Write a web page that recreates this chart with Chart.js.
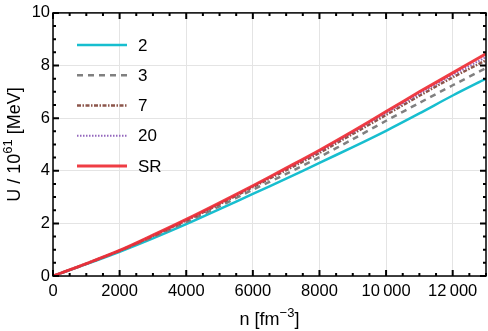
<!DOCTYPE html>
<html>
<head>
<meta charset="utf-8">
<script src="https://cdn.jsdelivr.net/npm/chart.js@4.4.1/dist/chart.umd.min.js"></script>
<style>
  html,body{ margin:0; padding:0; background:#fff; }
  #wrap{ width:488px; height:331px; position:relative; }
</style>
</head>
<body>
<div id="wrap"><canvas id="chart"></canvas></div>
<script>
// data (n in fm^-3, U in 10^61 MeV)
const nValues = [0,1000,2000,3000,4000,5000,6000,7000,8000,9000,10000,11000,12000,13000];
const u2  = [0,0.45,0.92,1.43,1.97,2.54,3.12,3.70,4.30,4.90,5.52,6.18,6.86,7.50];
const u3  = [0,0.46,0.95,1.48,2.05,2.65,3.28,3.88,4.52,5.20,5.90,6.58,7.25,7.90];
const u7  = [0,0.47,0.96,1.52,2.11,2.73,3.38,4.02,4.68,5.40,6.12,6.85,7.55,8.20];
const u20 = [0,0.47,0.97,1.54,2.13,2.76,3.41,4.07,4.74,5.46,6.20,6.93,7.64,8.32];
const uSR = [0,0.47,0.97,1.55,2.15,2.78,3.43,4.10,4.78,5.50,6.25,7.00,7.72,8.45];
const seriesNames = ['2','3','7','20','SR'];
const xTicks = [0,2000,4000,6000,8000,10000,12000];
const yTicks = [0,2,4,6,8,10];

const FONT = '"Liberation Sans", Arial, sans-serif';
const pts = arr => arr.map((v,i) => ({x:nValues[i], y:v}));

const styles = [
  { color:'#17becf', width:2.5, dash:[] },
  { color:'#808080', width:2.5, dash:[6,5] },
  { color:'#8c564b', width:2.5, dash:[4,1.5,1.5,1.5] },
  { color:'#9467bd', width:2, dash:[1.5,1.5] },
  { color:'rgba(238,44,52,0.92)', width:3, dash:[] },
];

const datasets = [u2,u3,u7,u20,uSR].map((arr,i) => ({
  label: seriesNames[i],
  data: pts(arr),
  borderColor: styles[i].color,
  borderWidth: styles[i].width,
  borderDash: styles[i].dash,
  pointRadius: 0,
  tension: 0.3,
  fill: false,
  order: 5 - i
}));

const fmtThousands = v => v >= 10000 ? String(v).replace(/(\d)(\d{3})$/, '$1\u2009$2') : String(v);

// draws text with a raised part: [main, sup, tail]
function supText(ctx, parts, x, y, big, small){
  let cx = x;
  parts.forEach((t,i) => {
    ctx.font = (i === 1 ? small : big) + 'px ' + FONT;
    ctx.fillText(t, cx, i === 1 ? y - big * 0.45 : y);
    cx += ctx.measureText(t).width;
  });
}
function supWidth(ctx, parts, big, small){
  return parts.reduce((w,t,i) => {
    ctx.font = (i === 1 ? small : big) + 'px ' + FONT;
    return w + ctx.measureText(t).width;
  }, 0);
}

// frame, inward ticks, custom legend and axis titles
const decor = {
  id:'decor',
  afterDraw(chart){
    const {ctx, chartArea:a, scales:{x, y}} = chart;
    ctx.save();
    ctx.strokeStyle = '#000';
    ctx.lineWidth = 1.5;
    ctx.strokeRect(a.left, a.top, a.right - a.left, a.bottom - a.top);

    ctx.lineWidth = 2;
    for(let v = 0; v <= 13000; v += 500){
      const px = x.getPixelForValue(v);
      const len = v % 2000 === 0 ? 6 : 3;
      ctx.beginPath();
      ctx.moveTo(px, a.bottom); ctx.lineTo(px, a.bottom - len);
      ctx.moveTo(px, a.top); ctx.lineTo(px, a.top + len);
      ctx.stroke();
    }
    for(let v = 0; v <= 10; v += 0.5){
      const py = y.getPixelForValue(v);
      const len = v % 2 === 0 ? 6 : 3;
      ctx.beginPath();
      ctx.moveTo(a.left, py); ctx.lineTo(a.left + len, py);
      ctx.moveTo(a.right, py); ctx.lineTo(a.right - len, py);
      ctx.stroke();
    }

    // legend
    ctx.font = '17px ' + FONT;
    ctx.textBaseline = 'middle';
    ctx.fillStyle = '#000';
    styles.forEach((s,i) => {
      const ly = a.top + 32 + i * 30.3;
      ctx.beginPath();
      ctx.strokeStyle = s.color;
      ctx.lineWidth = s.width;
      ctx.setLineDash(s.dash);
      ctx.moveTo(a.left + 24, ly); ctx.lineTo(a.left + 74, ly);
      ctx.stroke();
      ctx.setLineDash([]);
      ctx.fillText(seriesNames[i], a.left + 85, ly + 1);
    });

    // axis titles
    ctx.textBaseline = 'alphabetic';
    ctx.textAlign = 'left';
    const xt = ['n [fm', '\u22123', ']'];
    supText(ctx, xt, (a.left + a.right) / 2 - supWidth(ctx, xt, 18, 13) / 2, 325, 18, 13);

    const yt = ['U / 10', '61', ' [MeV]'];
    ctx.translate(20, (a.top + a.bottom) / 2);
    ctx.rotate(-Math.PI / 2);
    supText(ctx, yt, -supWidth(ctx, yt, 18, 13) / 2, 0, 18, 13);
    ctx.restore();
  }
};

new Chart(document.getElementById('chart'), {
  type:'line',
  data:{ datasets },
  options:{
    responsive:true,
    maintainAspectRatio:false,
    animation:false,
    layout:{ padding:{ top:9, right:2, left:0, bottom:0 } },
    plugins:{ legend:{ display:false }, tooltip:{ enabled:false } },
    scales:{
      x:{
        type:'linear', min:0, max:13000,
        afterBuildTicks: s => { s.ticks = xTicks.map(v => ({value:v})); },
        afterFit: s => { s.height = 55; },
        grid:{ color:'#e4e4e4', lineWidth:1, drawTicks:false },
        border:{ display:false },
        ticks:{ color:'#000', padding:6, maxRotation:0, font:{ family:FONT, size:16.5 }, callback: v => fmtThousands(v) }
      },
      y:{
        type:'linear', min:0, max:10,
        afterBuildTicks: s => { s.ticks = yTicks.map(v => ({value:v})); },
        afterFit: s => { s.width = 53; },
        grid:{ color:'#e4e4e4', lineWidth:1, drawTicks:false },
        border:{ display:false },
        ticks:{ color:'#000', padding:3, font:{ family:FONT, size:16.5 } }
      }
    }
  },
  plugins:[decor]
});
</script>
</body>
</html>
